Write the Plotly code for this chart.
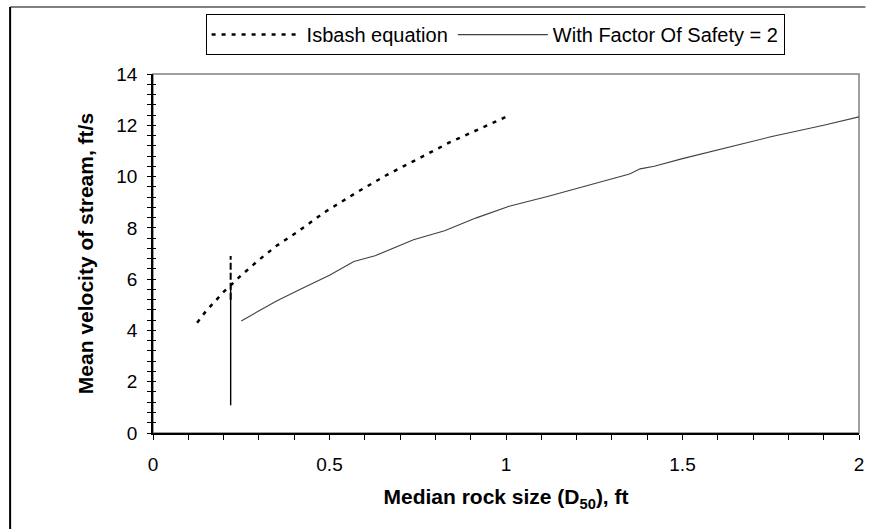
import plotly.graph_objects as go

# Isbash equation curve (D50 in ft, velocity in ft/s)
isbash_x = [0.125, 0.15, 0.2, 0.25, 0.3, 0.35, 0.41, 0.485, 0.573, 0.663, 0.752, 0.84, 0.935, 1.0]
isbash_y = [4.3, 4.75, 5.5, 6.15, 6.75, 7.3, 7.85, 8.6, 9.35, 10.07, 10.7, 11.33, 11.92, 12.33]

# With factor of safety = 2
fos_x = [0.25, 0.3, 0.35, 0.419, 0.5, 0.569, 0.629, 0.738, 0.826, 0.916, 1.009, 1.12, 1.253,
         1.35, 1.38, 1.42, 1.5, 1.6, 1.75, 1.9, 2.0]
fos_y = [4.37, 4.75, 5.15, 5.62, 6.15, 6.69, 6.91, 7.54, 7.89, 8.39, 8.84, 9.23, 9.72,
         10.1, 10.3, 10.4, 10.7, 11.05, 11.55, 12.0, 12.33]

# Vertical marker lines at D50 = 0.22 ft
mark_x = [0.22, 0.22]
mark_dash_y = [5.2, 6.9]
mark_solid_y = [1.08, 5.72]

FONT = "Liberation Sans, Arial, sans-serif"

fig = go.Figure()
fig.add_trace(go.Scatter(x=isbash_x, y=isbash_y, mode="lines", name="Isbash equation",
                         line=dict(color="black", width=2.5, dash="4px,6px")))
fig.add_trace(go.Scatter(x=fos_x, y=fos_y, mode="lines", name="With Factor Of Safety = 2",
                         line=dict(color="#404040", width=1.1)))
fig.add_trace(go.Scatter(x=mark_x, y=mark_dash_y, mode="lines", showlegend=False,
                         line=dict(color="black", width=2, dash="7px,3px")))
fig.add_trace(go.Scatter(x=mark_x, y=mark_solid_y, mode="lines", showlegend=False,
                         line=dict(color="black", width=1.4)))
# overlay axis for crossing y ticks
fig.add_trace(go.Scatter(x=[None], y=[None], yaxis="y2", showlegend=False))

L, R, T, B = 153, 864.5, 74, 433.5
W, H = 870, 529
pw, ph = R - L, B - T

def px(xp):
    return (xp - L) / pw

def py(yp):
    return (B - yp) / ph

fig.update_layout(
    width=W, height=H,
    margin=dict(l=L, r=W - R, t=T, b=H - B, pad=0),
    paper_bgcolor="white", plot_bgcolor="white",
    font=dict(family=FONT, size=19, color="black"),
    showlegend=True,
    legend=dict(orientation="h", x=px(206), y=py(14), xanchor="left", yanchor="top",
                bordercolor="black", borderwidth=1, bgcolor="white",
                itemwidth=90, font=dict(size=20), tracegroupgap=0),
    xaxis=dict(range=[0, 2], dtick=0.5, tick0=0, showgrid=False, zeroline=False,
               showline=True, linecolor="black", linewidth=1.5,
               ticks="outside", ticklen=5, tickcolor="black", tickwidth=1,
               ticklabeloverflow="allow",
               minor=dict(dtick=0.1, ticks="outside", ticklen=5, tickcolor="black", tickwidth=1,
                          showgrid=False),
               ticklabelstandoff=8,
               title=dict(text="<b>Median rock size (D<sub>50</sub>), ft</b>",
                          font=dict(size=21), standoff=16)),
    yaxis=dict(range=[0, 14], dtick=2, tick0=0, showgrid=False, zeroline=False,
               showline=True, linecolor="black", linewidth=1.5,
               ticks="outside", ticklen=4, tickcolor="black", tickwidth=1,
               ticklabeloverflow="allow",
               minor=dict(dtick=0.4, ticks="outside", ticklen=4, tickcolor="black", tickwidth=1,
                          showgrid=False),
               ticklabelstandoff=6,
               title=dict(text="<b>Mean velocity of stream, ft/s</b>",
                          font=dict(size=21), standoff=17)),
    yaxis2=dict(range=[0, 14], overlaying="y", side="left", showgrid=False, zeroline=False,
                showline=False, showticklabels=False, dtick=2,
                ticks="inside", ticklen=3, tickcolor="black", tickwidth=1,
                minor=dict(dtick=0.4, ticks="inside", ticklen=3, tickcolor="black", tickwidth=1)),
    shapes=[
        # plot-area border (grey top & right)
        dict(type="rect", xref="paper", yref="paper", x0=0, x1=1, y0=0, y1=1,
             line=dict(color="#808080", width=1.5), layer="below"),
        # outer chart frame: top (grey) and left (black)
        dict(type="line", xref="paper", yref="paper", x0=px(9), x1=px(871), y0=py(7), y1=py(7),
             line=dict(color="#808080", width=2)),
        dict(type="line", xref="paper", yref="paper", x0=px(9), x1=px(9), y0=py(7), y1=py(530),
             line=dict(color="black", width=2)),
    ],
)

fig.write_html("out.html", config={"displayModeBar": False},
               post_script="document.body.style.margin='0px';document.body.style.overflow='hidden';")
